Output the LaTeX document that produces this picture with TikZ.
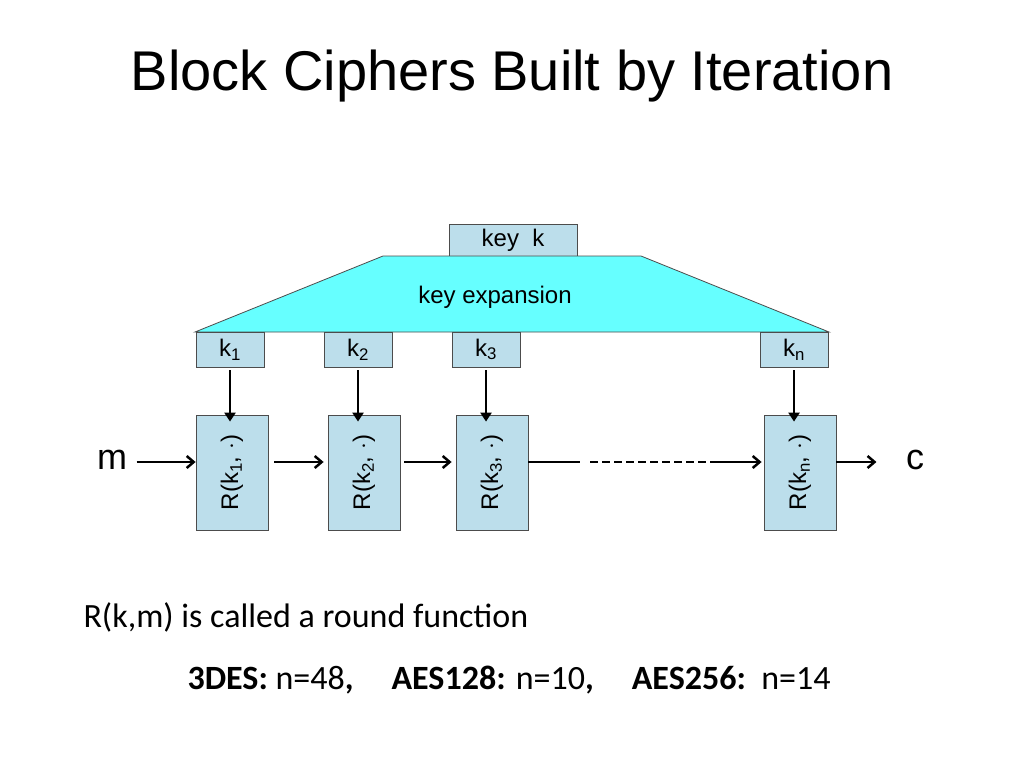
\documentclass[tikz,border=0pt]{standalone}
\usepackage{fontspec}
\setmainfont{Liberation Sans}
\newfontfamily\carfont{Carlito}
\usetikzlibrary{arrows.meta}
\newcommand{\sbx}[1]{\textsubscript{#1}}
\begin{document}
\begin{tikzpicture}[x=1pt,y=-1pt,
  box/.style={draw=black!70,fill=cyan!25!white!85!gray,line width=0.8pt,inner sep=0pt,font=\fontsize{24}{28}\selectfont},
  rbox/.style={box,minimum width=72pt,minimum height=115pt},
  kbox/.style={box,minimum width=68pt,minimum height=35pt},
  arr/.style={-{Straight Barb[length=7pt,width=12pt,line width=2.5pt]},line width=2.5pt}]
\useasboundingbox (0,0) rectangle (1024,768);
\node[font=\fontsize{56}{64}\selectfont] (title) at (512,76) {Block Ciphers Built by Iteration};
\node[box,minimum width=128pt,minimum height=32pt] (key) at (513,240) {key\ \ k};
\draw[draw=black!70,fill={rgb,255:red,102;green,255;blue,255},line width=0.8pt] (383,256) -- (641,256) -- (829,332) -- (195,332) -- cycle;
\node[font=\fontsize{24}{28}\selectfont] (ke) at (495,297) {key expansion};
\node[kbox] (k1) at (230,349.5) {k\sbx{1}};
\node[kbox] (k2) at (358,349.5) {k\sbx{2}};
\node[kbox] (k3) at (486,349.5) {k\sbx{3}};
\node[kbox] (kn) at (794,349.5) {k\sbx{n}};
\node[rbox] (r1) at (232,472.5) {\rotatebox{90}{R(k\sbx{1}, $\cdot$)}};
\node[rbox] (r2) at (364,472.5) {\rotatebox{90}{R(k\sbx{2}, $\cdot$)}};
\node[rbox] (r3) at (492,472.5) {\rotatebox{90}{R(k\sbx{3}, $\cdot$)}};
\node[rbox] (rn) at (800,472.5) {\rotatebox{90}{R(k\sbx{n}, $\cdot$)}};
\foreach \a/\b in {k1/r1,k2/r2,k3/r3,kn/rn}
  \draw[-{Triangle[length=9pt,width=11pt]},line width=2.5pt] ([yshift=-3pt]\a.south) -- ([yshift=-7pt]\a.south |- \b.north);
\node[font=\fontsize{36}{42}\selectfont] (m) at (112,460) {m};
\node[font=\fontsize{36}{42}\selectfont] (c) at (915,460) {c};
\draw[arr] (m.east |- 0,462) ++(6,0) coordinate (ms) -- (ms -| r1.west);
\draw[arr] ([xshift=6pt]r1.east |- 0,462) -- ([xshift=-4pt]r2.west |- 0,462);
\draw[arr] ([xshift=4pt]r2.east |- 0,462) -- ([xshift=-4pt]r3.west |- 0,462);
\coordinate (d1) at (580,462); \coordinate (d2) at (590,462); \coordinate (d3) at (716,462);
\draw[line width=2.5pt] (r3.east |- 0,462) -- (d1);
\draw[line width=2.5pt,dash pattern=on 8pt off 4pt] (d2) -- (d3);
\draw[arr] (d3) -- ([xshift=-2pt]rn.west |- 0,462);
\draw[arr] (rn.east |- 0,462) -- ([xshift=-26pt]c.west |- 0,462) coordinate (ce);
\node[font=\carfont\fontsize{34}{40}\selectfont,anchor=west] (rt) at (80,617) {R(k,m) is called a round function};
\node[font=\carfont\fontsize{34}{40}\selectfont,anchor=west] (ex) at (184,680) {\textbf{3DES:} n=48\textbf{,}\hspace{38pt}\textbf{AES128:} n=10\textbf{,}\hspace{38pt}\textbf{AES256:}\ \ n=14};
\end{tikzpicture}
\end{document}
